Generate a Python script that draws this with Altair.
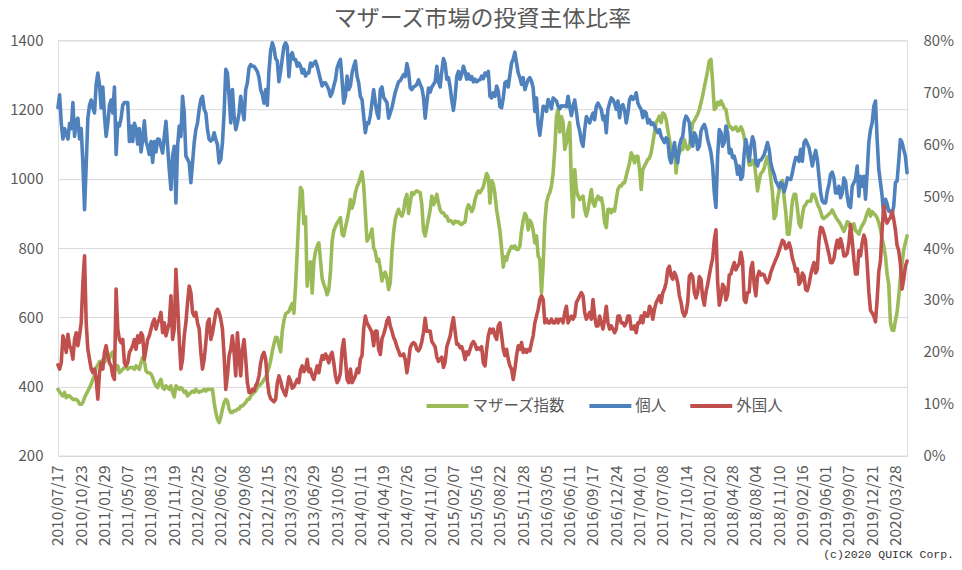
import json
import altair as alt
import pandas as pd

TITLE = "マザーズ市場の投資主体比率"
SERIES = ["マザーズ指数", "個人", "外国人"]
COLORS = ["#9BBB59", "#4F81BD", "#C0504D"]
COPYRIGHT = "(c)2020 QUICK Corp."
TICK_STEP = 14
TICK_LABELS = [
    "2010/07/17", "2010/10/23", "2011/01/29", "2011/05/07", "2011/08/13", "2011/11/19",
    "2012/02/25", "2012/06/02", "2012/09/08", "2012/12/15", "2013/03/23", "2013/06/29",
    "2013/10/05", "2014/01/11", "2014/04/19", "2014/07/26", "2014/11/01", "2015/02/07",
    "2015/05/16", "2015/08/22", "2015/11/28", "2016/03/05", "2016/06/11", "2016/09/17",
    "2016/12/24", "2017/04/01", "2017/07/08", "2017/10/14", "2018/01/20", "2018/04/28",
    "2018/08/04", "2018/11/10", "2019/02/16", "2019/06/01", "2019/09/07", "2019/12/21",
    "2020/03/28",
]
LEFT_TICKS = [200, 400, 600, 800, 1000, 1200, 1400]
RIGHT_TICKS = [0, 10, 20, 30, 40, 50, 60, 70, 80]

# マザーズ指数 (left axis), weekly
MOTHERS_INDEX = [
    392, 385, 378, 373, 383, 368, 373, 373, 368, 363,
    363, 363, 359, 349, 349, 354, 368, 378, 387, 397,
    407, 421, 431, 455, 462, 472, 468, 478, 470, 478,
    490, 482, 495, 500, 468, 450, 460, 440, 445, 450,
    455, 455, 450, 455, 455, 455, 450, 460, 455, 450,
    469, 484, 474, 445, 440, 440, 436, 426, 412, 402,
    397, 412, 421, 397, 392, 402, 397, 392, 402, 383,
    370, 402, 397, 392, 397, 392, 383, 387, 373, 378,
    383, 387, 383, 392, 387, 383, 387, 387, 392, 387,
    392, 392, 392, 392, 354, 325, 306, 296, 311, 335,
    354, 363, 359, 335, 325, 325, 330, 330, 335, 335,
    344, 344, 349, 354, 363, 363, 373, 378, 383, 387,
    397, 402, 407, 412, 421, 426, 440, 455, 475, 502,
    523, 542, 541, 520, 500, 560, 590, 610, 613, 617,
    630, 640, 612, 690, 790, 895, 975, 965, 870, 890,
    690, 745, 760, 670, 760, 790, 805, 815, 765, 712,
    695, 683, 665, 680, 730, 820, 850, 862, 872, 880,
    888, 840, 835, 860, 880, 905, 940, 915, 930, 960,
    978, 988, 1005, 1020, 980, 900, 820, 828, 838, 855,
    800, 790, 762, 768, 740, 705, 725, 730, 712, 680,
    700, 790, 845, 882, 900, 912, 898, 892, 907, 940,
    955, 900, 930, 960, 955, 962, 965, 962, 960, 925,
    850, 835, 860, 885, 910, 950, 925, 935, 955, 930,
    910, 902, 902, 892, 892, 878, 880, 876, 870, 878,
    875, 876, 870, 868, 873, 875, 910, 925, 918, 905,
    915, 940, 955, 965, 960, 968, 977, 997, 1015, 1005,
    930, 995, 985, 955, 910, 880, 850, 800, 745, 775,
    765, 785, 795, 805, 800, 806, 796, 796, 806, 850,
    880, 900, 892, 852, 880, 872, 850, 815, 835, 777,
    767, 671, 750, 873, 930, 950, 960, 979, 1017, 1085,
    1180, 1200, 1135, 1180, 1162, 1085, 1104, 1142, 1162, 979,
    890, 1027, 969, 950, 940, 945, 950, 912, 892, 912,
    940, 969, 931, 921, 940, 950, 940, 945, 921, 873,
    859, 912, 912, 902, 912, 907, 940, 969, 979, 979,
    988, 988, 1008, 1027, 1046, 1075, 1065, 1046, 1065, 1065,
    1027, 969, 1027, 1037, 1046, 1056, 1060, 1075, 1104, 1133,
    1162, 1171, 1181, 1162, 1190, 1186, 1171, 1142, 1113, 1085,
    1065, 1094, 1017, 1065, 1075, 1085, 1085, 1113, 1094, 1085,
    1090, 1130, 1160, 1168, 1177, 1186, 1200, 1220, 1240, 1265,
    1288, 1312, 1340, 1345, 1280, 1200, 1205, 1221, 1214, 1225,
    1215, 1204, 1200, 1170, 1150, 1150, 1142, 1145, 1150, 1138,
    1140, 1150, 1140, 1120, 1090, 1075, 1040, 1040, 1053, 1050,
    1010, 965, 995, 1015, 1020, 1030, 1050, 1063, 1040, 1000,
    960, 885, 895, 940, 965, 990, 995, 945, 905, 840,
    840, 885, 935, 955, 955, 915, 870, 860, 895, 920,
    925, 935, 935, 935, 955, 955, 945, 928, 918, 905,
    888, 885, 890, 893, 898, 902, 910, 900, 890, 882,
    876, 868, 858, 848, 860, 876, 873, 860, 855, 870,
    850, 846, 840, 855, 865, 873, 885, 902, 912, 892,
    905, 900, 895, 887, 873, 854, 825, 806, 777, 725,
    695, 585, 563, 562, 590, 615, 660, 715, 755, 795,
    815, 835,
]

# 個人 share (%), right axis
INDIVIDUAL_PCT = [
    67, 69.5, 64, 61, 63, 62, 61, 64, 63, 68,
    61.5, 64.5, 65, 61, 63, 56.4, 47.4, 56, 65, 67.5,
    68.5, 67, 66, 71.5, 73.7, 71.5, 67, 71, 65.5, 61.5,
    64, 67.5, 68.5, 66, 71, 58, 64, 63.5, 65, 67.5,
    68, 68, 68, 60.5, 63.5, 60.5, 64, 63, 60, 63,
    58.5, 61, 64.5, 60.5, 59.5, 58, 60.5, 56.5, 60.5, 58.5,
    61, 60.9, 59.6, 58.3, 61.5, 64.4, 59.6, 55.1, 51.3, 57.7,
    59.6, 48.7, 59.6, 63.5, 61.5, 69.2, 66.0, 57.7, 57.1, 56.4,
    52.6, 56.4, 60.3, 62.8, 64.1, 66.7, 68.6, 69.2, 66.7, 66.0,
    62.8, 60.9, 60.6, 60.9, 62.2, 60.9, 59.9, 56.4, 57.1, 60.3,
    66.0, 74.4, 73.7, 69.2, 64.1, 70.5, 65.4, 62.8, 64.1, 66.0,
    69.2, 66.7, 64.7, 70.5, 71.8, 74.7, 75.3, 75.0, 75.0, 74.5,
    74.0, 72.8, 70.5, 69.6, 67.9, 70.5, 67.5, 74, 78, 79.5,
    78.5, 76.5, 76, 72, 74, 76.5, 78.8, 79.5, 78.8, 73,
    77, 77.6, 76.3, 76.3, 75, 75.6, 75, 73.7, 74.4, 73.1,
    73.7, 73.7, 75.6, 75, 75.6, 76, 75, 73.7, 72.4, 71.2,
    71.8, 71.8, 71.2, 70.5, 69.2, 69.9, 71.2, 72.4, 74.7, 75.6,
    76.3, 72.4, 67.9, 69.2, 73.1, 70.5, 71.2, 73.7, 75, 76,
    73.1, 71.8, 69.2, 68.6, 65.4, 62.2, 64.1, 64, 65.5, 68,
    70.5, 68, 66, 65, 70.5, 71, 69, 68.5, 68, 65,
    66, 67, 68.5, 70, 71, 72, 72.2, 72.8, 73.4, 73,
    75.5, 74, 70.8, 70.5, 71, 71.2, 71.5, 72.4, 71.5, 70.8,
    69, 65, 68, 70.8, 70, 71, 71.5, 72, 75, 72,
    71, 74, 76.5, 75.5, 72.5, 72.8, 71, 68.5, 66.5, 69,
    73, 74, 72.5, 73.5, 75, 74, 72.5, 73.5, 72.5, 73,
    72, 72.5, 72, 72.3, 72.4, 73.1, 72.6, 73.7, 73.2, 74.0,
    69.2, 68.9, 69.9, 69.2, 71.2, 70.2, 67.2, 67.0, 68.9, 71.8,
    72.1, 71.0, 73.4, 75.6, 76.4, 77.7, 75.6, 73.7, 72.8, 71.5,
    72.8, 70.5, 71.5, 72.4, 72.8, 72.1, 70.8, 66.3, 68.9, 63.8,
    61.7, 64.4, 67.3, 67.2, 66.3, 68.6, 67.8, 66.8, 68.9, 68.6,
    68.3, 67.3, 66.8, 67.4, 67.3, 67.4, 67.2, 69.2, 67.2, 65.5,
    67.3, 68.5, 66.3, 63.8, 62.5, 60.6, 59.6, 62.8, 65.3, 64.7,
    64.1, 65.1, 66.0, 64.7, 67.3, 67.9, 67.3, 66.7, 64.7, 65.4,
    62.2, 66.7, 67.9, 68.9, 68.6, 67.8, 66.7, 68.3, 65.1, 67.3,
    67.6, 66.5, 64.1, 66.0, 68.6, 69.2, 68.6, 68.9, 69.9, 67.9,
    67.2, 66.7, 65.1, 66.3, 66.0, 64.1, 64.7, 63.8, 64.1, 63.5,
    62.8, 62.2, 62.8, 61.5, 60.9, 60.3, 61.2, 60.9, 57.4, 56.4,
    58.3, 60.3, 57.7, 56.4, 59.6, 60.9, 61.5, 64.4, 65.4, 64.9,
    64.1, 60.3, 59.6, 62.2, 61.5, 59.0, 59.6, 62.5, 63.3, 63.8,
    62.8, 60.9, 59.7, 58.3, 55.8, 50.6, 47.8, 57.7, 62.8, 62.2,
    59.6, 60.3, 63.5, 62.2, 58.3, 59.0, 57.4, 57.7, 56.4, 54.2,
    55.8, 53.2, 53.8, 58.3, 60.9, 59.0, 56.7, 59.6, 61.4, 60.3,
    56.4, 55.8, 56.9, 56.9, 57.4, 58.0, 59.1, 60.3, 59.0, 56.4,
    55.1, 54.2, 52.9, 52.3, 51.6, 52.6, 52.3, 50.8, 51.9, 53.5,
    53.3, 53.2, 54.5, 56.1, 57.4, 57.4, 56.7, 59.0, 56.7, 60.3,
    60.8, 60.1, 59.3, 57.7, 55.8, 57.4, 58.8, 57.1, 53.8, 50.6,
    49.0, 48.7, 48.7, 50.9, 52.2, 54.2, 54.6, 53.5, 50.6, 50.6,
    51.9, 49.7, 50.6, 53.5, 52.8, 50.0, 48.1, 47.8, 51.9, 52.6,
    53.2, 55.8, 50.0, 53.8, 51.9, 53.8, 49.4, 54.5, 60.3, 62.8,
    64.1, 67.3, 68.3, 60.9, 55.1, 52.6, 50.0, 46.2, 49.4, 48.5,
    47.1, 47.1, 46.5, 48.1, 52.6, 52.9, 56.7, 60.9, 60.3, 59.0,
    57.7, 54.5,
]

# 外国人 share (%), right axis
FOREIGN_PCT = [
    17.5, 16.7, 17.9, 23.1, 21.8, 19.9, 23.4, 21.2, 20.5, 18.6,
    22.4, 23.7, 21.2, 23.1, 25.6, 33.3, 38.5, 25.6, 20.5, 18.6,
    16.7, 16.0, 16.7, 14.7, 10.9, 16.0, 17.9, 16.7, 19.9, 21.2,
    19.3, 17.9, 17.3, 15.4, 14.7, 32.1, 24.4, 22.4, 21.8, 22.4,
    17.9, 17.3, 17.9, 19.9, 20.5, 21.2, 22.4, 20.5, 23.1, 21.8,
    23.7, 23.1, 18.6, 20.5, 22.4, 23.1, 24.4, 25.6, 26.3, 24.4,
    25.6, 26.3, 27.6, 23.7, 25.6, 23.1, 24.4, 25.6, 30.8, 22.4,
    24.4, 35.9, 29.5, 22.4, 16.7, 18.6, 23.1, 25.6, 29.5, 32.7,
    31.4, 27.6, 26.9, 27.6, 25.6, 24.4, 19.9, 16.7, 18.6, 21.8,
    25.6, 26.3, 22.4, 23.7, 25.6, 27.6, 28.2, 27.6, 26.3, 24.4,
    19.3, 12.8, 15.4, 19.3, 20.5, 23.1, 19.9, 15.4, 23.7, 19.3,
    15.4, 20.5, 22.4, 18.6, 14.1, 12.2, 12.2, 12.8, 12.5, 13.5,
    14.1, 15.4, 17.9, 19.3, 19.9, 18.6, 14.5, 12.0, 11.0, 10.7,
    10.4, 10.9, 14.0, 15.4, 14.4, 13.0, 12.3, 11.6, 13.3, 15.2,
    14.4, 13.0, 13.3, 14.0, 14.7, 14.1, 16.5, 17.3, 16.2, 16.7,
    18.6, 16.2, 16.7, 15.4, 14.7, 16.0, 17.3, 16.0, 17.9, 19.3,
    18.6, 19.6, 19.0, 17.9, 19.3, 19.9, 17.9, 15.4, 14.1, 14.7,
    16.0, 20.5, 22.4, 18.6, 14.7, 14.1, 16.7, 14.1, 14.7, 15.4,
    16.7, 16.0, 18.6, 19.3, 24.4, 26.9, 25.6, 25.0, 24.4, 23.7,
    21.2, 24.0, 24.0, 20.5, 19.5, 22.5, 23.4, 24.5, 26.0, 26.6,
    25.0, 24.0, 22.8, 22.1, 21.0, 20.2, 19.3, 19.3, 19.6, 18.5,
    16.0, 18.0, 20.8, 21.5, 21.8, 21.5, 20.5, 20.2, 20.8, 22.0,
    23.8, 26.5, 24.0, 24.0, 24.0, 22.0, 21.5, 21.0, 19.0, 18.2,
    18.6, 19.0, 17.0, 18.0, 21.0, 22.0, 23.0, 25.0, 26.6, 24.0,
    21.5, 21.5, 20.8, 21.0, 20.0, 18.5, 20.0, 19.5, 20.5, 21.5,
    22.0, 21.5, 20.5, 20.8, 20.5, 21.0, 17.9, 17.3, 20.5, 23.1,
    24.4, 23.7, 24.4, 23.1, 22.4, 25.0, 25.6, 23.1, 20.5, 19.3,
    20.5, 18.6, 17.3, 16.7, 14.7, 16.7, 19.3, 21.2, 20.5, 21.8,
    19.9, 20.5, 19.9, 20.5, 20.2, 21.8, 23.1, 25.6, 26.9, 28.2,
    30.1, 30.8, 30.1, 25.6, 26.3, 25.6, 25.6, 26.3, 25.6, 25.6,
    26.3, 25.6, 26.3, 26.3, 25.6, 27.6, 28.8, 25.6, 26.3, 26.9,
    26.3, 26.9, 29.5, 30.1, 30.8, 31.4, 30.8, 27.6, 26.3, 26.9,
    27.6, 26.3, 30.1, 26.9, 25.0, 25.0, 26.9, 25.6, 24.4, 26.3,
    28.8, 25.6, 24.4, 25.0, 24.4, 23.7, 24.4, 26.9, 26.9, 25.6,
    25.6, 25.0, 25.6, 26.9, 26.9, 24.4, 24.4, 25.0, 23.7, 25.6,
    25.6, 26.9, 25.6, 27.6, 26.9, 26.9, 28.8, 28.2, 26.3, 28.2,
    29.5, 30.1, 30.8, 29.5, 31.4, 32.1, 33.3, 35.9, 36.5, 34.6,
    34.0, 35.3, 34.6, 33.3, 30.8, 29.5, 27.6, 26.9, 27.6, 29.5,
    34.6, 35.0, 34.5, 31.5, 30.4, 31.5, 34.5, 34.0, 30.5, 29.0,
    31.5, 33.0, 34.8, 36.5, 38.0, 41.5, 43.5, 33.5, 29.0, 30.5,
    33.0, 32.5, 30.0, 31.0, 34.8, 35.0, 36.2, 37.2, 35.8, 36.5,
    37.0, 39.2, 37.5, 30.0, 29.5, 31.5, 31.5, 36.0, 37.2, 33.0,
    30.8, 34.5, 35.5, 34.8, 35.0, 34.8, 33.8, 33.3, 34.0, 35.3,
    36.2, 37.0, 37.8, 38.5, 39.5, 40.5, 41.5, 41.2, 39.9, 40.1,
    41.0, 39.9, 38.0, 37.0, 35.5, 36.0, 33.0, 33.5, 35.2, 34.6,
    32.0, 31.8, 33.0, 34.8, 36.2, 37.2, 35.2, 35.9, 41.5, 44.0,
    43.8, 42.8, 41.5, 40.2, 38.8, 37.2, 37.2, 38.0, 40.0, 41.5,
    40.0, 41.8, 40.5, 38.5, 38.5, 39.0, 41.0, 44.5, 41.5, 37.8,
    35.0, 35.0, 39.5, 38.5, 41.0, 42.5, 41.5, 37.0, 31.5, 28.0,
    27.5, 26.9, 25.8, 30.0, 35.5, 37.5, 43.6, 48.1, 45.8, 44.8,
    45.5, 45.8, 47.1, 45.5, 43.5, 40.5, 39.5, 37.0, 32.1, 34.0,
    36.5, 37.5,
]

FONT = "Noto Sans CJK JP"
TEXT_GRAY = "#595959"
GRID_GRAY = "#D9D9D9"
PLOT_W, PLOT_H = 850, 416


def frame(values, name):
    return pd.DataFrame({"week": list(range(len(values))), "value": values, "series": name})


n_last = max(len(MOTHERS_INDEX), len(INDIVIDUAL_PCT), len(FOREIGN_PCT)) - 1
label_expr = f"{json.dumps(TICK_LABELS, ensure_ascii=False)}[round(datum.value / {TICK_STEP})]"

x_enc = alt.X(
    "week:Q",
    scale=alt.Scale(domain=[0, n_last], nice=False, zero=False),
    axis=alt.Axis(
        values=[i * TICK_STEP for i in range(len(TICK_LABELS))],
        labelExpr=label_expr,
        labelAngle=-90,
        labelFont=FONT,
        labelFontSize=15.5,
        labelColor=TEXT_GRAY,
        labelPadding=9,
        labelOverlap=False,
        labelFlush=False,
        ticks=False,
        tickSize=0,
        grid=False,
        domainColor=GRID_GRAY,
        title=None,
    ),
)

color_enc = alt.Color(
    "series:N",
    scale=alt.Scale(domain=SERIES, range=COLORS),
    legend=alt.Legend(
        title=None,
        orient="none",
        legendX=367,
        legendY=343,
        direction="horizontal",
        symbolType="stroke",
        symbolSize=1764,
        symbolStrokeWidth=4,
        labelFont=FONT,
        labelFontSize=15.5,
        labelColor=TEXT_GRAY,
        labelOffset=2,
        columnPadding=15,
    ),
)

left_y = alt.Y(
    "value:Q",
    scale=alt.Scale(domain=[200, 1400], nice=False, zero=False),
    axis=alt.Axis(
        values=LEFT_TICKS,
        format="d",
        title=None,
        grid=True,
        gridColor=GRID_GRAY,
        domain=False,
        ticks=False,
        tickSize=0,
        labelFont=FONT,
        labelFontSize=15,
        labelColor=TEXT_GRAY,
        labelPadding=15,
        minExtent=50,
        maxExtent=50,
    ),
)

right_y = alt.Y(
    "value:Q",
    scale=alt.Scale(domain=[0, 80], nice=False, zero=True),
    axis=alt.Axis(
        orient="right",
        values=RIGHT_TICKS,
        labelExpr="datum.value + '%'",
        title=None,
        grid=False,
        domain=False,
        ticks=False,
        tickSize=0,
        labelFont=FONT,
        labelFontSize=15,
        labelColor=TEXT_GRAY,
        labelPadding=16,
        minExtent=46,
        maxExtent=46,
    ),
)

line_style = dict(strokeWidth=3.6, strokeJoin="round", strokeCap="round")

mothers = alt.Chart(frame(MOTHERS_INDEX, SERIES[0])).mark_line(**line_style).encode(
    x=x_enc, y=left_y, color=color_enc
)
individual = alt.Chart(frame(INDIVIDUAL_PCT, SERIES[1])).mark_line(**line_style).encode(
    x=x_enc, y=right_y, color=color_enc
)
foreign = alt.Chart(frame(FOREIGN_PCT, SERIES[2])).mark_line(**line_style).encode(
    x=x_enc, y=right_y, color=color_enc
)

copyright_mark = alt.Chart(pd.DataFrame({"t": [COPYRIGHT]})).mark_text(
    font="Liberation Mono", fontSize=11.5, color="#333333", align="right", baseline="bottom"
).encode(text="t:N", x=alt.value(897), y=alt.value(520))

chart = (
    alt.layer(mothers, alt.layer(individual, foreign), copyright_mark)
    .resolve_scale(y="independent")
    .properties(
        width=PLOT_W,
        height=PLOT_H,
        padding={"left": 0, "top": 0, "right": 0, "bottom": 0},
        title=alt.TitleParams(
            TITLE, font=FONT, fontSize=23, fontWeight="normal", color=TEXT_GRAY,
            anchor="middle", offset=2,
        ),
    )
    .configure_view(stroke=None)
    .configure(background="white")
)

chart.save("out.html", embed_options={"renderer": "svg", "actions": False})
